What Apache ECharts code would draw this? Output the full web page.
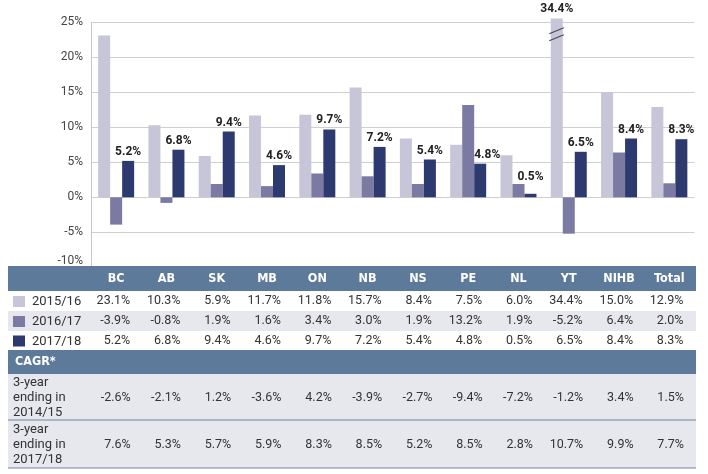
<!DOCTYPE html>
<html>
<head>
<meta charset="utf-8">
<script src="https://cdn.jsdelivr.net/npm/echarts@6/dist/echarts.min.js"></script>
<style>
html,body{margin:0;padding:0;background:#fff;}
#chart{width:708px;height:474px;}
</style>
</head>
<body>
<div id="chart"></div>
<script>
// ---- data ----
var categories = ['BC','AB','SK','MB','ON','NB','NS','PE','NL','YT','NIHB','Total'];
var seriesNames = ['2015/16','2016/17','2017/18'];
var v2015 = [23.1, 10.3, 5.9, 11.7, 11.8, 15.7, 8.4, 7.5, 6.0, 34.4, 15.0, 12.9];
var v2016 = [-3.9, -0.8, 1.9, 1.6, 3.4, 3.0, 1.9, 13.2, 1.9, -5.2, 6.4, 2.0];
var v2017 = [5.2, 6.8, 9.4, 4.6, 9.7, 7.2, 5.4, 4.8, 0.5, 6.5, 8.4, 8.3];
var cagrLabels = ['3-year\nending in\n2014/15', '3-year\nending in\n2017/18'];
var cagr1415 = [-2.6, -2.1, 1.2, -3.6, 4.2, -3.9, -2.7, -9.4, -7.2, -1.2, 3.4, 1.5];
var cagr1718 = [7.6, 5.3, 5.7, 5.9, 8.3, 8.5, 5.2, 8.5, 2.8, 10.7, 9.9, 7.7];
var yTicks = [-10, -5, 0, 5, 10, 15, 20, 25];

// ---- styles ----
var colors = ['#c6c6d8', '#7b7aa2', '#2d3a70'];
var headerBg = '#5e7a9b';
var grayRow = '#e7e7ee';
var textColor = '#333333';
var numFont = 'Roboto, "Noto Sans", sans-serif';
var condFont = '"Liberation Sans Narrow", "DejaVu Sans Condensed", Roboto, sans-serif';
var axisCap = 25.55; // broken-axis cap for bars exceeding the scale
function pct(v){ return v.toFixed(1) + '%'; }

var chart = echarts.init(document.getElementById('chart'), null, {renderer:'canvas'});

var d2015 = v2015.map(function(v){
  if (v > axisCap) {
    return {value: axisCap, raw: v, label: {show: true, formatter: pct(v)}};
  }
  return v;
});
var labelOffsets = {PE: [7, 0], NL: [0, -8]};
var d2017 = v2017.map(function(v, i){
  var item = {value: v};
  if (labelOffsets[categories[i]]) item.label = {offset: labelOffsets[categories[i]]};
  return item;
});

var labelStyle = {
  position: 'top', distance: 3, color: '#222', fontWeight: 'bold',
  fontSize: 12, fontFamily: numFont
};

chart.setOption({
  animation: false,
  backgroundColor: '#fff',
  grid: {left: 91, right: 13.5, top: 22.3, bottom: 206.7, containLabel: false},
  xAxis: {
    type: 'category', data: categories,
    axisLine: {show: false}, axisTick: {show: false}, axisLabel: {show: false},
    splitLine: {show: false}
  },
  yAxis: {
    type: 'value', min: yTicks[0], max: yTicks[yTicks.length-1], interval: 5,
    axisLine: {show: true, lineStyle: {color: '#c8c8c8', width: 1}},
    axisTick: {show: false},
    splitLine: {lineStyle: {color: '#cfcfcf', width: 1}},
    axisLabel: {
      formatter: function(v){ return v + '%'; },
      color: '#444', fontSize: 12, fontFamily: numFont, margin: 8,
      verticalAlignMinLabel: 'bottom'
    }
  },
  series: [
    {name: seriesNames[0], type: 'bar', data: d2015, barWidth: 12, barGap: '0%', clip: false,
     itemStyle: {color: colors[0]}, label: Object.assign({show: false}, labelStyle)},
    {name: seriesNames[1], type: 'bar', data: v2016, barWidth: 12, barGap: '0%',
     itemStyle: {color: colors[1]}},
    {name: seriesNames[2], type: 'bar', data: d2017, barWidth: 12, barGap: '0%',
     itemStyle: {color: colors[2]},
     label: Object.assign({show: true, formatter: function(p){ return pct(p.value); }}, labelStyle)}
  ]
});

// ---- table + axis-break mark ----
var g = [];
var tblL = 8, tblR = 696, tblW = tblR - tblL;
var rows = {
  head: [266, 291], r1: [291, 311], r2: [311, 331], r3: [331, 350],
  cagr: [350, 374], c1: [374, 420], c2: [420, 468]
};
function rect(y0, y1, fill){
  g.push({type: 'rect', shape: {x: tblL, y: y0, width: tblW, height: y1 - y0}, style: {fill: fill}, z: 10});
}
function hline(y, color){
  g.push({type: 'line', shape: {x1: tblL, y1: y, x2: tblR, y2: y}, style: {stroke: color, lineWidth: 1.2}, z: 11});
}
function txt(s, x, y, opt){
  g.push({type: 'text', z: 12, style: Object.assign({
    text: s, x: x, y: y, fill: textColor, font: '12.5px ' + numFont,
    align: 'right', verticalAlign: 'middle'
  }, opt || {})});
}
function mid(r){ return (r[0] + r[1]) / 2; }

rect(rows.head[0], rows.head[1], headerBg);
rect(rows.r1[0], rows.r1[1], '#ffffff');
rect(rows.r2[0], rows.r2[1], grayRow);
rect(rows.r3[0], rows.r3[1], '#ffffff');
rect(rows.cagr[0], rows.cagr[1], headerBg);
rect(rows.c1[0], rows.c1[1], grayRow);
rect(rows.c2[0], rows.c2[1], grayRow);
hline(rows.c2[0], '#7286a4');
hline(rows.c2[1], '#7286a4');

var colX = categories.map(function(c, i){
  return chart.convertToPixel({xAxisIndex: 0}, i);
});

categories.forEach(function(c, i){
  txt(c, colX[i], mid(rows.head) + 0.5, {fill: '#fff', font: 'bold 12.5px ' + condFont, align: 'center'});
});

var seriesRows = [[rows.r1, v2015], [rows.r2, v2016], [rows.r3, v2017]];
seriesRows.forEach(function(sr, k){
  var r = sr[0], vals = sr[1];
  g.push({type: 'rect', z: 12, shape: {x: 13, y: mid(r) - 5, width: 12, height: 11}, style: {fill: colors[k]}});
  txt(seriesNames[k], 32, mid(r) + 1, {align: 'left', font: '13px ' + numFont});
  vals.forEach(function(v, i){ txt(pct(v), colX[i] + 14, mid(r)); });
});

txt('CAGR*', 15, mid(rows.cagr), {fill: '#fff', font: 'bold 12.5px ' + condFont, align: 'left'});

[[rows.c1, cagr1415, cagrLabels[0]], [rows.c2, cagr1718, cagrLabels[1]]].forEach(function(cr){
  var r = cr[0];
  txt(cr[2], 13, mid(r) + 1, {align: 'left', font: '13px ' + numFont, lineHeight: 15});
  cr[1].forEach(function(v, i){ txt(pct(v), colX[i] + 14.5, mid(r) + 0.5); });
});

// axis break mark on bars that exceed the scale
v2015.forEach(function(v, i){
  if (v > axisCap) {
    var c = chart.convertToPixel({xAxisIndex: 0}, i) - 18 + 6; // first bar of group center
    var yc = chart.convertToPixel({yAxisIndex: 0}, 23.3);
    [-3.5, 3.5].forEach(function(dy){
      g.push({type: 'line', z: 20, shape: {x1: c - 7.5, y1: yc + dy + 3, x2: c + 7, y2: yc + dy - 3},
        style: {stroke: '#4a4a55', lineWidth: 1.2}});
    });
  }
});

chart.setOption({graphic: g});
</script>
</body>
</html>
